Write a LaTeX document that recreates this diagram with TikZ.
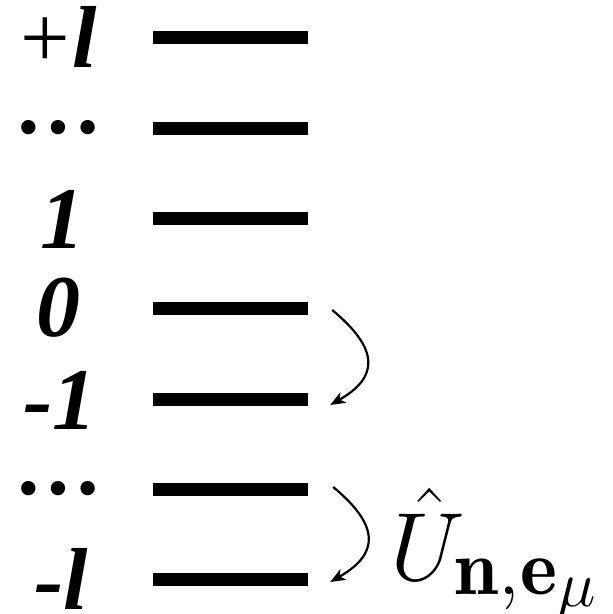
\RequirePackage{fix-cm}
\documentclass[tikz,border=0pt]{standalone}
\usepackage{fontspec}
\newfontfamily\tms{Liberation Serif}
\DeclareMathSizes{97}{97}{79}{65}
\usetikzlibrary{arrows.meta}
\begin{document}
\begin{tikzpicture}[x=1pt,y=1pt,
  bar/.style={fill=black, minimum width=155pt, minimum height=13pt, inner sep=0pt},
  lab/.style={font=\tms\fontsize{88}{90}\selectfont\bfseries\itshape, inner sep=0pt},
  arr/.style={line width=2.2pt, -{Stealth[length=15pt,width=12pt,inset=4pt]}}]
\useasboundingbox (0,0) rectangle (613,614);
% levels
\node[bar] (Lp)  at (230.5,576) {};
\node[bar] (Ld1) at (230.5,485) {};
\node[bar] (L1)  at (230.5,395) {};
\node[bar] (L0)  at (230.5,305) {};
\node[bar] (Lm1) at (230.5,214) {};
\node[bar] (Ld2) at (230.5,124) {};
\node[bar] (Lml) at (230.5,34)  {};
% labels
\node[lab] (tp)   at (59,577) {{\mdseries\upshape+\kern2pt}l};
\node[lab] (td1)  at (61,486) {…};
\node[lab] (t1)   at (63,395) {1};
\node[lab] (t0)   at (58,306) {0};
\node[lab] (tm1)  at (60,214) {-1};
\node[lab] (td2)  at (61,125) {…};
\node[lab] (tml)  at (61,35)  {-l};
% transitions
\coordinate (a1) at ([xshift=24pt,yshift=-1pt]L0.east);
\coordinate (b1) at ([xshift=22pt,yshift=-5pt]Lm1.east);
\coordinate (a2) at ([xshift=25pt,yshift=3pt]Ld2.east);
\coordinate (b2) at ([xshift=22pt,yshift=-2pt]Lml.east);
\draw[arr] (a1) .. controls ([xshift=47pt,yshift=-39pt]a1) and ([xshift=49pt,yshift=28pt]b1) .. (b1);
\draw[arr] (a2) .. controls ([xshift=47pt,yshift=-39pt]a2) and ([xshift=49pt,yshift=28pt]b2) .. (b2);
\node[anchor=base west, inner sep=0pt, font=\fontsize{97}{100}\selectfont] (U) at (390,34) {$\hat{U}_{\mathbf{n},\mathbf{e}_\mu}$};
\end{tikzpicture}
\end{document}
